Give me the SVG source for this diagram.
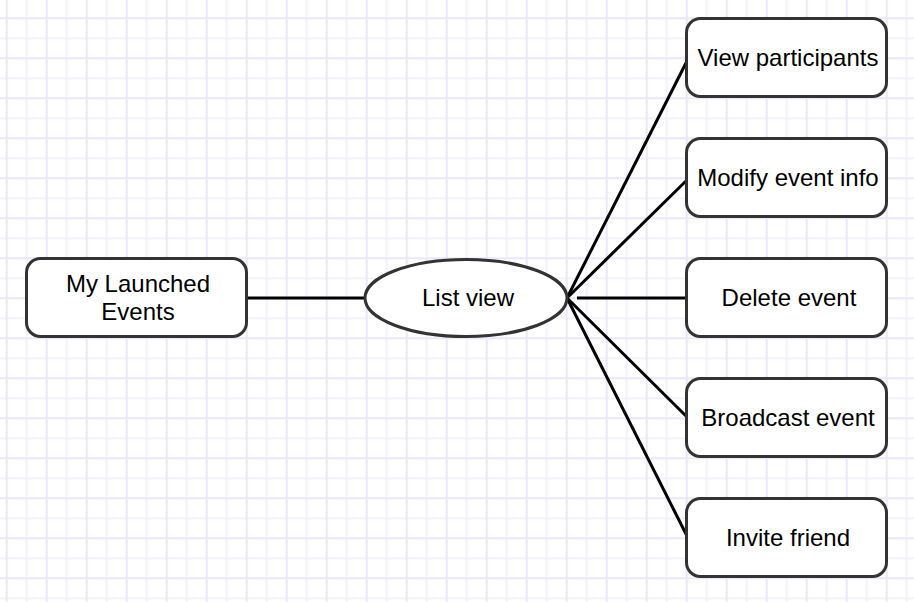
<svg xmlns="http://www.w3.org/2000/svg" width="914" height="602" viewBox="0 0 914 602">
<defs>
<pattern id="grid" patternUnits="userSpaceOnUse" x="-3.3" y="8.3" width="40" height="40">
<rect x="0" y="29" width="40" height="2" fill="#f3f2fe"/>
<rect x="29" y="0" width="2" height="40" fill="#f3f2fe"/>
<rect x="0" y="9" width="40" height="2" fill="#e9e7fc"/>
<rect x="9" y="0" width="2" height="40" fill="#e9e7fc"/>
</pattern>
<style>
.box{fill:#ffffff;stroke:#333333;stroke-width:3}
.lbl{font-family:"Liberation Sans",Arial,Helvetica,sans-serif;font-size:24px;fill:#000000;text-anchor:middle}
.edge{stroke:#000000;stroke-width:3;fill:none}
</style>
</defs>
<rect width="914" height="602" fill="#ffffff"/>
<rect width="914" height="602" fill="url(#grid)"/>
<g id="connectors">
<line class="edge" x1="246" y1="298" x2="366" y2="298"/>
<line class="edge" x1="567" y1="298" x2="688" y2="59"/>
<line class="edge" x1="567" y1="298" x2="688" y2="179"/>
<line class="edge" x1="577" y1="298" x2="686" y2="298"/>
<line class="edge" x1="567" y1="298" x2="688" y2="418"/>
<line class="edge" x1="567" y1="298" x2="688" y2="538"/>
</g>
<g id="my-launched-events">
<rect class="box" x="26.5" y="258.5" width="220" height="78" rx="14"/>
<text class="lbl" x="138" y="292">My Launched</text>
<text class="lbl" x="138" y="320">Events</text>
</g>
<g id="list-view">
<ellipse class="box" cx="466" cy="298" rx="101" ry="38.5"/>
<text class="lbl" x="468" y="306">List view</text>
</g>
<g id="view-participants">
<rect class="box" x="686.5" y="18.5" width="200" height="78" rx="14"/>
<text class="lbl" x="788" y="66">View participants</text>
</g>
<g id="modify-event-info">
<rect class="box" x="686.5" y="138.5" width="200" height="78" rx="14"/>
<text class="lbl" x="788" y="186">Modify event info</text>
</g>
<g id="delete-event">
<rect class="box" x="686.5" y="258.5" width="200" height="78" rx="14"/>
<text class="lbl" x="789" y="306">Delete event</text>
</g>
<g id="broadcast-event">
<rect class="box" x="686.5" y="378.5" width="200" height="78" rx="14"/>
<text class="lbl" x="788" y="426">Broadcast event</text>
</g>
<g id="invite-friend">
<rect class="box" x="686.5" y="498.5" width="200" height="78" rx="14"/>
<text class="lbl" x="788" y="546">Invite friend</text>
</g>
</svg>
